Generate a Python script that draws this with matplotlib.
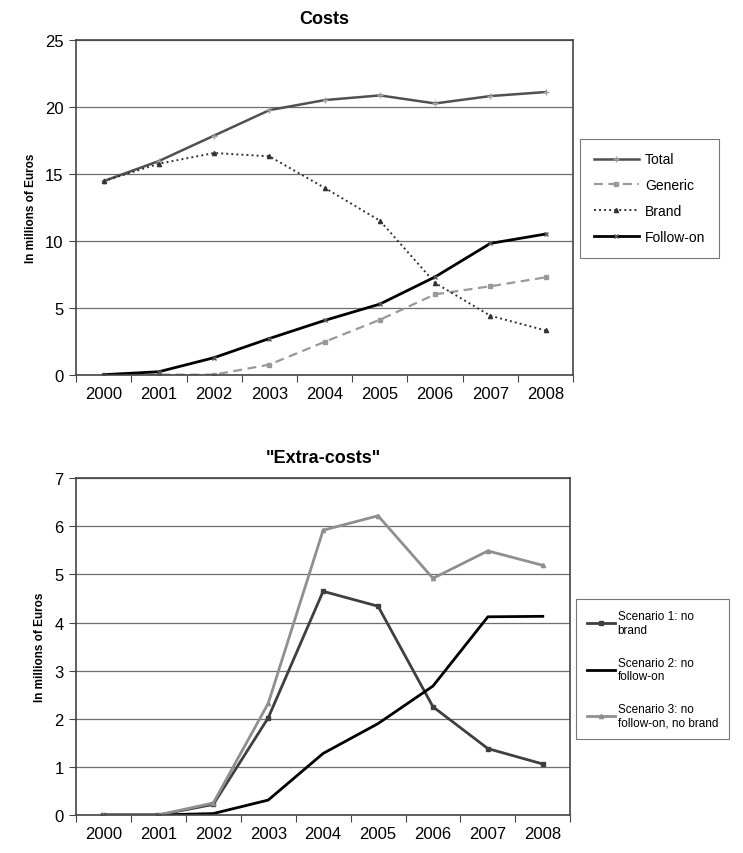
import matplotlib
matplotlib.use("Agg")
import matplotlib.pyplot as plt

plt.rcParams["font.family"] = ["Liberation Sans", "DejaVu Sans"]

years = ["2000", "2001", "2002", "2003", "2004", "2005", "2006", "2007", "2008"]

total = [14.45, 15.95, 17.85, 19.75, 20.5, 20.85, 20.25, 20.8, 21.1]
generic = [0.0, 0.0, 0.0, 0.75, 2.45, 4.1, 6.0, 6.6, 7.27]
brand = [14.45, 15.75, 16.55, 16.3, 13.95, 11.5, 6.85, 4.4, 3.3]
follow_on = [0.0, 0.22, 1.27, 2.7, 4.05, 5.27, 7.3, 9.8, 10.5]

scenario1 = [0.0, 0.0, 0.22, 2.02, 4.65, 4.34, 2.25, 1.38, 1.06]
scenario2 = [0.0, 0.0, 0.03, 0.31, 1.28, 1.9, 2.68, 4.12, 4.13]
scenario3 = [0.0, 0.0, 0.25, 2.32, 5.92, 6.22, 4.92, 5.49, 5.19]

x = list(range(len(years)))

fig = plt.figure(figsize=(7.43, 8.54), dpi=100)
ax1 = fig.add_axes([0.1023, 0.5601, 0.6692, 0.3921])
ax2 = fig.add_axes([0.1023, 0.0445, 0.6652, 0.3943])


def style_axis(ax, ymax, step):
    ax.set_xlim(-0.5, len(years) - 0.5)
    ax.set_ylim(0, ymax)
    ax.set_yticks(range(0, ymax + 1, step))
    ax.set_xticks([i - 0.5 for i in range(len(years) + 1)])
    ax.set_xticklabels([])
    ax.set_xticks(x, minor=True)
    ax.set_xticklabels(years, minor=True)
    ax.tick_params(axis="x", which="minor", length=0, pad=8, labelsize=12)
    ax.tick_params(axis="x", which="major", length=5, color="#444444")
    ax.tick_params(axis="y", length=5, labelsize=12, pad=4, color="#444444")
    ax.grid(axis="y", color="#6e6e6e", linewidth=0.9)
    ax.set_axisbelow(True)
    for s in ax.spines.values():
        s.set_color("#444444")
        s.set_linewidth(1.2)
    ax.set_ylabel("In millions of Euros", fontsize=8.5, fontweight="bold", labelpad=6)


# Costs
ax1.plot(x, total, color="#505050", linewidth=1.8, marker="+", markersize=4,
         markeredgecolor="#a0a0a0", label="Total")
ax1.plot(x, generic, color="#999999", linewidth=1.6, linestyle=(0, (4, 2.5)),
         marker="s", markersize=3, label="Generic")
ax1.plot(x, brand, color="#333333", linewidth=1.4, linestyle=(0, (1, 1.6)),
         marker="^", markersize=3, label="Brand")
ax1.plot(x, follow_on, color="black", linewidth=2.0, marker="x", markersize=3,
         markeredgecolor="#555555", label="Follow-on")
style_axis(ax1, 25, 5)
ax1.set_title("Costs", fontsize=13, fontweight="bold", pad=12)
leg1 = ax1.legend(loc="upper left", bbox_to_anchor=(1.013, 0.705), fontsize=10,
                  frameon=True, fancybox=False, edgecolor="#555555",
                  handlelength=3.3, handletextpad=0.4, labelspacing=0.85,
                  borderpad=1.0, borderaxespad=0)
leg1.get_frame().set_linewidth(0.8)

# Extra-costs
ax2.plot(x, scenario1, color="#3f3f3f", linewidth=2.0, marker="s", markersize=3,
         label="Scenario 1: no\nbrand")
ax2.plot(x, scenario2, color="black", linewidth=2.0, label="Scenario 2: no\nfollow-on")
ax2.plot(x, scenario3, color="#8f8f8f", linewidth=2.0, marker="^", markersize=3,
         label="Scenario 3: no\nfollow-on, no brand")
style_axis(ax2, 7, 1)
ax2.set_title("\"Extra-costs\"", fontsize=13, fontweight="bold", pad=12)
leg2 = ax2.legend(loc="upper left", bbox_to_anchor=(1.012, 0.64), fontsize=8.5,
                  frameon=True, fancybox=False, edgecolor="#555555",
                  handlelength=2.4, handletextpad=0.2, labelspacing=1.75,
                  borderpad=0.9, borderaxespad=0)
leg2.get_frame().set_linewidth(0.8)

fig.savefig("out.png", dpi=100)
